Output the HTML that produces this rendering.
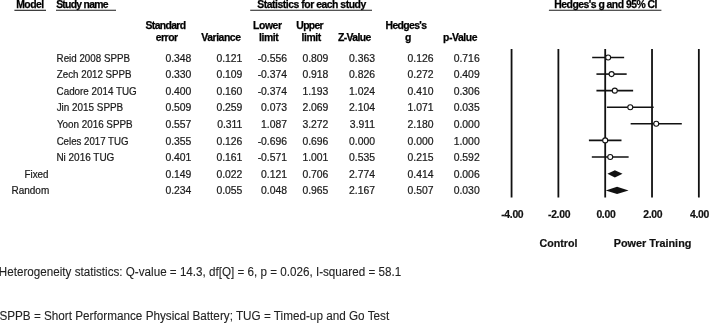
<!DOCTYPE html><html><head><meta charset="utf-8"><style>
html,body{margin:0;padding:0;background:#fff;width:709px;height:323px;overflow:hidden}
svg{display:block;will-change:transform}
text{font-family:"Liberation Sans",sans-serif}
.r{font-size:10.4px;fill:#1a1a1a;stroke:#1a1a1a;stroke-width:0.22px}
.h{font-size:10.4px;font-weight:bold;fill:#000;stroke:#000;stroke-width:0.25px}
.t{font-size:10.4px;font-weight:bold;fill:#111;letter-spacing:-0.3px;stroke:#111;stroke-width:0.2px}
.l{font-size:10.6px;font-weight:bold;fill:#111;stroke:#111;stroke-width:0.2px}
.f{font-size:12px;fill:#222;stroke:#222;stroke-width:0.1px}
</style></head><body>
<svg width="709" height="323" viewBox="0 0 709 323">
<text id="model" class="h" x="16.21" y="7.70" textLength="28.04" lengthAdjust="spacing">Model</text>
<text id="study" class="h" x="56.13" y="7.70" textLength="52.46" lengthAdjust="spacing">Study name</text>
<text id="stats" class="h" x="257.33" y="7.70" textLength="108.88" lengthAdjust="spacing">Statistics for each study</text>
<text id="hg" class="h" x="554.36" y="7.70" textLength="103.06" lengthAdjust="spacing">Hedges&#39;s g and 95% CI</text>
<text id="std" class="h" x="145.55" y="28.75" textLength="40.45" lengthAdjust="spacing">Standard</text>
<text id="err" class="h" x="155.74" y="40.60" textLength="22.39" lengthAdjust="spacing">error</text>
<text id="var" class="h" x="201.28" y="40.60" textLength="39.69" lengthAdjust="spacing">Variance</text>
<text id="low" class="h" x="253.00" y="28.75" textLength="29.03" lengthAdjust="spacing">Lower</text>
<text id="lim1" class="h" x="258.95" y="40.60" textLength="19.86" lengthAdjust="spacing">limit</text>
<text id="upp" class="h" x="296.31" y="28.75" textLength="27.26" lengthAdjust="spacing">Upper</text>
<text id="lim2" class="h" x="301.42" y="40.60" textLength="19.75" lengthAdjust="spacing">limit</text>
<text id="zv" class="h" x="338.01" y="40.60" textLength="33.30" lengthAdjust="spacing">Z-Value</text>
<text id="hed" class="h" x="385.58" y="28.75" textLength="41.34" lengthAdjust="spacing">Hedges&#39;s</text>
<text id="g" class="h" x="405.04" y="40.60" textLength="9.44" lengthAdjust="spacing">g</text>
<text id="pv" class="h" x="442.93" y="40.60" textLength="34.52" lengthAdjust="spacing">p-Value</text>
<text id="n0" class="r" x="56.61" y="61.70" textLength="73.37" lengthAdjust="spacingAndGlyphs">Reid 2008 SPPB</text>
<text id="n1" class="r" x="56.87" y="78.28" textLength="74.71" lengthAdjust="spacingAndGlyphs">Zech 2012 SPPB</text>
<text id="n2" class="r" x="56.60" y="94.85" textLength="80.10" lengthAdjust="spacingAndGlyphs">Cadore 2014 TUG</text>
<text id="n3" class="r" x="56.66" y="111.42" textLength="66.53" lengthAdjust="spacingAndGlyphs">Jin 2015 SPPB</text>
<text id="n4" class="r" x="56.93" y="128.00" textLength="75.72" lengthAdjust="spacingAndGlyphs">Yoon 2016 SPPB</text>
<text id="n5" class="r" x="56.64" y="144.57" textLength="71.80" lengthAdjust="spacingAndGlyphs">Celes 2017 TUG</text>
<text id="n6" class="r" x="56.40" y="161.15" textLength="57.96" lengthAdjust="spacingAndGlyphs">Ni 2016 TUG</text>
<text id="fixed" class="r" x="24.56" y="177.72" textLength="23.91" lengthAdjust="spacingAndGlyphs">Fixed</text>
<text id="random" class="r" x="11.50" y="194.30" textLength="37.69" lengthAdjust="spacingAndGlyphs">Random</text>
<text id="ctrl" class="l" x="539.59" y="246.90" textLength="37.85" lengthAdjust="spacingAndGlyphs">Control</text>
<text id="pt" class="l" x="613.73" y="246.90" textLength="77.65" lengthAdjust="spacingAndGlyphs">Power Training</text>
<text id="het" class="f" x="-1.13" y="275.60" textLength="402.25" lengthAdjust="spacingAndGlyphs">Heterogeneity statistics: Q-value = 14.3, df[Q] = 6, p = 0.026, I-squared = 58.1</text>
<text id="sppb" class="f" x="-0.61" y="320.40" textLength="389.75" lengthAdjust="spacingAndGlyphs">SPPB = Short Performance Physical Battery; TUG = Timed-up and Go Test</text>
<line x1="14.4" y1="10.3" x2="46" y2="10.3" stroke="#1a1a1a" stroke-width="1.1"/>
<line x1="56" y1="10.3" x2="116" y2="10.3" stroke="#1a1a1a" stroke-width="1.1"/>
<line x1="250.2" y1="10.3" x2="372" y2="10.3" stroke="#1a1a1a" stroke-width="1.1"/>
<line x1="548.9" y1="10.3" x2="661.4" y2="10.3" stroke="#1a1a1a" stroke-width="1.1"/>
<text class="r" x="191.40" y="61.70" text-anchor="end">0.348</text>
<text class="r" x="242.40" y="61.70" text-anchor="end">0.121</text>
<text class="r" x="287.10" y="61.70" text-anchor="end">-0.556</text>
<text class="r" x="328.40" y="61.70" text-anchor="end">0.809</text>
<text class="r" x="375.10" y="61.70" text-anchor="end">0.363</text>
<text class="r" x="433.50" y="61.70" text-anchor="end">0.126</text>
<text class="r" x="479.70" y="61.70" text-anchor="end">0.716</text>
<text class="r" x="191.40" y="78.28" text-anchor="end">0.330</text>
<text class="r" x="242.40" y="78.28" text-anchor="end">0.109</text>
<text class="r" x="287.10" y="78.28" text-anchor="end">-0.374</text>
<text class="r" x="328.40" y="78.28" text-anchor="end">0.918</text>
<text class="r" x="375.10" y="78.28" text-anchor="end">0.826</text>
<text class="r" x="433.50" y="78.28" text-anchor="end">0.272</text>
<text class="r" x="479.70" y="78.28" text-anchor="end">0.409</text>
<text class="r" x="191.40" y="94.85" text-anchor="end">0.400</text>
<text class="r" x="242.40" y="94.85" text-anchor="end">0.160</text>
<text class="r" x="287.10" y="94.85" text-anchor="end">-0.374</text>
<text class="r" x="328.40" y="94.85" text-anchor="end">1.193</text>
<text class="r" x="375.10" y="94.85" text-anchor="end">1.024</text>
<text class="r" x="433.50" y="94.85" text-anchor="end">0.410</text>
<text class="r" x="479.70" y="94.85" text-anchor="end">0.306</text>
<text class="r" x="191.40" y="111.42" text-anchor="end">0.509</text>
<text class="r" x="242.40" y="111.42" text-anchor="end">0.259</text>
<text class="r" x="287.10" y="111.42" text-anchor="end">0.073</text>
<text class="r" x="328.40" y="111.42" text-anchor="end">2.069</text>
<text class="r" x="375.10" y="111.42" text-anchor="end">2.104</text>
<text class="r" x="433.50" y="111.42" text-anchor="end">1.071</text>
<text class="r" x="479.70" y="111.42" text-anchor="end">0.035</text>
<text class="r" x="191.40" y="128.00" text-anchor="end">0.557</text>
<text class="r" x="242.40" y="128.00" text-anchor="end">0.311</text>
<text class="r" x="287.10" y="128.00" text-anchor="end">1.087</text>
<text class="r" x="328.40" y="128.00" text-anchor="end">3.272</text>
<text class="r" x="375.10" y="128.00" text-anchor="end">3.911</text>
<text class="r" x="433.50" y="128.00" text-anchor="end">2.180</text>
<text class="r" x="479.70" y="128.00" text-anchor="end">0.000</text>
<text class="r" x="191.40" y="144.57" text-anchor="end">0.355</text>
<text class="r" x="242.40" y="144.57" text-anchor="end">0.126</text>
<text class="r" x="287.10" y="144.57" text-anchor="end">-0.696</text>
<text class="r" x="328.40" y="144.57" text-anchor="end">0.696</text>
<text class="r" x="375.10" y="144.57" text-anchor="end">0.000</text>
<text class="r" x="433.50" y="144.57" text-anchor="end">0.000</text>
<text class="r" x="479.70" y="144.57" text-anchor="end">1.000</text>
<text class="r" x="191.40" y="161.15" text-anchor="end">0.401</text>
<text class="r" x="242.40" y="161.15" text-anchor="end">0.161</text>
<text class="r" x="287.10" y="161.15" text-anchor="end">-0.571</text>
<text class="r" x="328.40" y="161.15" text-anchor="end">1.001</text>
<text class="r" x="375.10" y="161.15" text-anchor="end">0.535</text>
<text class="r" x="433.50" y="161.15" text-anchor="end">0.215</text>
<text class="r" x="479.70" y="161.15" text-anchor="end">0.592</text>
<text class="r" x="191.40" y="177.72" text-anchor="end">0.149</text>
<text class="r" x="242.40" y="177.72" text-anchor="end">0.022</text>
<text class="r" x="287.10" y="177.72" text-anchor="end">0.121</text>
<text class="r" x="328.40" y="177.72" text-anchor="end">0.706</text>
<text class="r" x="375.10" y="177.72" text-anchor="end">2.774</text>
<text class="r" x="433.50" y="177.72" text-anchor="end">0.414</text>
<text class="r" x="479.70" y="177.72" text-anchor="end">0.006</text>
<text class="r" x="191.40" y="194.30" text-anchor="end">0.234</text>
<text class="r" x="242.40" y="194.30" text-anchor="end">0.055</text>
<text class="r" x="287.10" y="194.30" text-anchor="end">0.048</text>
<text class="r" x="328.40" y="194.30" text-anchor="end">0.965</text>
<text class="r" x="375.10" y="194.30" text-anchor="end">2.167</text>
<text class="r" x="433.50" y="194.30" text-anchor="end">0.507</text>
<text class="r" x="479.70" y="194.30" text-anchor="end">0.030</text>
<line x1="511.56" y1="49" x2="511.56" y2="197.5" stroke="#111" stroke-width="1.8"/>
<line x1="558.38" y1="49" x2="558.38" y2="197.5" stroke="#111" stroke-width="1.8"/>
<line x1="605.20" y1="49" x2="605.20" y2="197.5" stroke="#111" stroke-width="1.8"/>
<line x1="652.02" y1="49" x2="652.02" y2="197.5" stroke="#111" stroke-width="1.8"/>
<line x1="698.84" y1="49" x2="698.84" y2="197.5" stroke="#111" stroke-width="1.8"/>
<line x1="592.18" y1="57.50" x2="624.14" y2="57.50" stroke="#111" stroke-width="1.6"/>
<circle cx="608.15" cy="57.50" r="2.5" fill="#fff" stroke="#111" stroke-width="1.1"/>
<line x1="596.44" y1="74.08" x2="626.69" y2="74.08" stroke="#111" stroke-width="1.6"/>
<circle cx="611.57" cy="74.08" r="2.5" fill="#fff" stroke="#111" stroke-width="1.1"/>
<line x1="596.44" y1="90.65" x2="633.13" y2="90.65" stroke="#111" stroke-width="1.6"/>
<circle cx="614.80" cy="90.65" r="2.5" fill="#fff" stroke="#111" stroke-width="1.1"/>
<line x1="606.91" y1="107.22" x2="653.64" y2="107.22" stroke="#111" stroke-width="1.6"/>
<circle cx="630.27" cy="107.22" r="2.5" fill="#fff" stroke="#111" stroke-width="1.1"/>
<line x1="630.65" y1="123.80" x2="681.80" y2="123.80" stroke="#111" stroke-width="1.6"/>
<circle cx="656.23" cy="123.80" r="2.5" fill="#fff" stroke="#111" stroke-width="1.1"/>
<line x1="588.91" y1="140.38" x2="621.49" y2="140.38" stroke="#111" stroke-width="1.6"/>
<circle cx="605.20" cy="140.38" r="2.5" fill="#fff" stroke="#111" stroke-width="1.1"/>
<line x1="591.83" y1="156.95" x2="628.63" y2="156.95" stroke="#111" stroke-width="1.6"/>
<circle cx="610.23" cy="156.95" r="2.5" fill="#fff" stroke="#111" stroke-width="1.1"/>
<polygon points="607.43,173.82 614.89,170.22 622.53,173.82 614.89,177.42" fill="#111"/>
<polygon points="605.72,190.40 617.07,186.80 628.59,190.40 617.07,194.00" fill="#111"/>
<text class="t" x="512.26" y="217.6" text-anchor="middle">-4.00</text>
<text class="t" x="559.08" y="217.6" text-anchor="middle">-2.00</text>
<text class="t" x="605.90" y="217.6" text-anchor="middle">0.00</text>
<text class="t" x="652.72" y="217.6" text-anchor="middle">2.00</text>
<text class="t" x="699.54" y="217.6" text-anchor="middle">4.00</text>
</svg></body></html>
